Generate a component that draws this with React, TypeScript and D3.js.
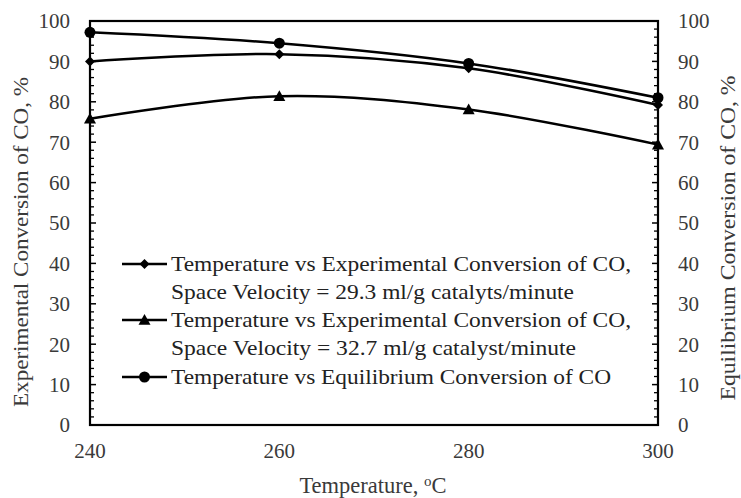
import React from "react";
import * as d3 from "d3";

const temps = [240, 260, 280, 300];
const expSV293 = [90, 91.8, 88.3, 79.2];
const expSV327 = [75.8, 81.4, 78.1, 69.4];
const equilibrium = [97.2, 94.5, 89.5, 81];
const yTicks = [0, 10, 20, 30, 40, 50, 60, 70, 80, 90, 100];
const xTicks = [240, 260, 280, 300];
const legendLines = [
  ["Temperature vs Experimental Conversion of CO,", "Space Velocity = 29.3 ml/g catalyts/minute"],
  ["Temperature vs Experimental Conversion of CO,", "Space Velocity = 32.7 ml/g catalyst/minute"],
  ["Temperature vs Equilibrium Conversion of CO"],
];
const legendWidths = [[460, 403], [460, 405], [440]];

const W = 741, H = 498;
const L = 90, R = 658, T = 21, B = 425;
const FONT = { fontFamily: '"Liberation Serif"' };

function Marker({ type, x, y }: { type: string; x: number; y: number }) {
  if (type === "diamond") {
    const s = 5;
    return <path d={`M${x},${y - s}L${x + s},${y}L${x},${y + s}L${x - s},${y}Z`} fill="#000" />;
  }
  if (type === "triangle") {
    const s = 6;
    return <path d={`M${x},${y - s}L${x + s},${y + s * 0.8}L${x - s},${y + s * 0.8}Z`} fill="#000" />;
  }
  return <circle cx={x} cy={y} r={5.5} fill="#000" />;
}

export default function App() {
  const x = d3.scaleLinear().domain([240, 300]).range([L, R]);
  const y = d3.scaleLinear().domain([0, 100]).range([B, T]);
  const line = d3
    .line<number>()
    .x((_, i) => x(temps[i]))
    .y((d) => y(d))
    .curve(d3.curveCatmullRom.alpha(0));
  const series = [
    { vals: expSV293, m: "diamond" },
    { vals: expSV327, m: "triangle" },
    { vals: equilibrium, m: "circle" },
  ];
  const minor = d3.range(0, 100, 2).filter((v) => v % 10 !== 0);
  const legendRows = [264, 320, 377];
  return (
    <svg width={W} height={H} style={{ position: "absolute", left: 0, top: 0, background: "#fff" }}>
      <rect width={W} height={H} fill="#fff" />
      {minor.map((v) => (
        <g key={"m" + v}>
          <line x1={L} x2={L + 4} y1={y(v)} y2={y(v)} stroke="#000" strokeWidth={1.3} />
          <line x1={R} x2={R - 4} y1={y(v)} y2={y(v)} stroke="#000" strokeWidth={1.3} />
        </g>
      ))}
      {yTicks.map((v) => (
        <g key={"t" + v}>
          <line x1={L} x2={L + 6} y1={y(v)} y2={y(v)} stroke="#000" strokeWidth={1.5} />
          <line x1={R} x2={R - 6} y1={y(v)} y2={y(v)} stroke="#000" strokeWidth={1.5} />
          <text x={70} y={y(v)} dy="0.35em" textAnchor="end" fontSize={21} fill="#3a3a3a" style={FONT}>{v}</text>
          <text x={678} y={y(v)} dy="0.35em" textAnchor="start" fontSize={21} fill="#3a3a3a" style={FONT}>{v}</text>
        </g>
      ))}
      <rect x={L} y={T} width={R - L} height={B - T} fill="none" stroke="#000" strokeWidth={2.2} />
      {xTicks.map((v) => (
        <text key={"x" + v} x={x(v)} y={458} textAnchor="middle" fontSize={21} fill="#3a3a3a" style={FONT}>{v}</text>
      ))}
      <text x={373} y={493} textAnchor="middle" fontSize={22.5} fill="#3a3a3a" style={FONT}>
        Temperature, <tspan dy={-7} fontSize={15}>o</tspan><tspan dy={7}>C</tspan>
      </text>
      <text transform={`translate(28,242) rotate(-90)`} textAnchor="middle" fontSize={21} fill="#3a3a3a" style={FONT}
        textLength={330} lengthAdjust="spacingAndGlyphs">
        Experimental Conversion of CO, %
      </text>
      <text transform={`translate(735,238) rotate(-90)`} textAnchor="middle" fontSize={21} fill="#3a3a3a" style={FONT}
        textLength={325} lengthAdjust="spacingAndGlyphs">
        Equilibrium Conversion of CO, %
      </text>
      {series.map((s, i) => (
        <g key={"s" + i}>
          <path d={line(s.vals) || ""} fill="none" stroke="#000" strokeWidth={2.5} />
          {s.vals.map((v, j) => (
            <Marker key={j} type={s.m} x={x(temps[j])} y={y(v)} />
          ))}
        </g>
      ))}
      {series.map((s, i) => (
        <g key={"l" + i}>
          <line x1={122} x2={167} y1={legendRows[i]} y2={legendRows[i]} stroke="#000" strokeWidth={2.5} />
          <Marker type={s.m} x={144.5} y={legendRows[i]} />
          {legendLines[i].map((t, k) => (
            <text key={k} x={171} y={legendRows[i] + k * 28} dy="0.35em" fontSize={21} fill="#222" style={FONT}
              textLength={legendWidths[i][k]} lengthAdjust="spacingAndGlyphs">{t}</text>
          ))}
        </g>
      ))}
    </svg>
  );
}
